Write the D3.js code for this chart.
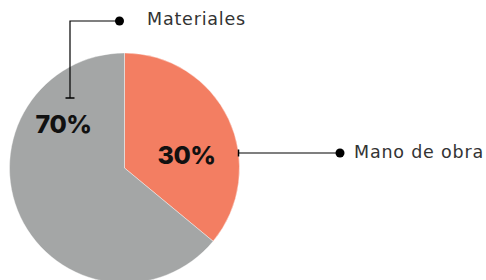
<!DOCTYPE html>
<html>
<head>
<meta charset="utf-8">
<script src="https://cdn.jsdelivr.net/npm/d3@7"></script>
<style>
  html, body { margin: 0; padding: 0; background: #fff; }
  svg { display: block; }
  text { font-family: Inter, "Open Sans", sans-serif; }
  .etiqueta { font-family: "DejaVu Sans", sans-serif; }
</style>
</head>
<body>
<div id="chart"></div>
<script>
// datos
const categorias = ["Mano de obra", "Materiales"];
const etiquetas = ["30%", "70%"];
// tamaño de las porciones tal como se ven dibujadas
const valores = [36, 64];
const colores = ["#f37e62", "#a4a6a6"];

const width = 486;
const height = 280;

const svg = d3.select("#chart").append("svg")
    .attr("width", width)
    .attr("height", height);

const cx = 124.5, cy = 168, radio = 115;

const pie = d3.pie().sort(null).value(d => d);
const arc = d3.arc().innerRadius(0).outerRadius(radio);
const arcos = pie(valores);

const g = svg.append("g").attr("transform", `translate(${cx},${cy})`);

g.selectAll("path")
    .data(arcos)
    .join("path")
    .attr("d", arc)
    .attr("fill", (d, i) => colores[i])
    .attr("stroke", "#fff")
    .attr("stroke-width", 0.4);

// porcentajes
const posPct = [[62, -13], [-61, -44]];
g.selectAll("text.pct")
    .data(arcos)
    .join("text")
    .attr("class", "pct")
    .attr("x", (d, i) => posPct[i][0])
    .attr("y", (d, i) => posPct[i][1])
    .attr("dy", "0.35em")
    .attr("text-anchor", "middle")
    .style("font-size", "25px")
    .style("font-weight", 800)
    .style("letter-spacing", "-0.5px")
    .style("fill", "#111")
    .text((d, i) => etiquetas[i]);

// línea guía: Mano de obra
const yMano = -15;
const xBorde = Math.sqrt(radio * radio - yMano * yMano);
const guia = svg.append("g").attr("transform", `translate(${cx},${cy})`);
guia.append("line")
    .attr("x1", xBorde).attr("x2", 215.5)
    .attr("y1", yMano).attr("y2", yMano)
    .attr("stroke", "#000").attr("stroke-width", 1.2);
guia.append("line")
    .attr("x1", xBorde).attr("x2", xBorde)
    .attr("y1", yMano - 3.5).attr("y2", yMano + 3.5)
    .attr("stroke", "#000").attr("stroke-width", 1.5);
guia.append("circle")
    .attr("cx", 215.5).attr("cy", yMano).attr("r", 4.5).attr("fill", "#000");
guia.append("text")
    .attr("class", "etiqueta")
    .attr("x", 229.5).attr("y", yMano - 1.5).attr("dy", "0.35em")
    .style("font-size", "17.5px").style("letter-spacing", "0.8px").style("fill", "#333")
    .text(categorias[0]);

// línea guía: Materiales
const xMat = -54.5, yTop = -147, yFin = -70;
guia.append("path")
    .attr("d", `M${xMat},${yFin}V${yTop}H${-5}`)
    .attr("fill", "none").attr("stroke", "#000").attr("stroke-width", 1.2);
guia.append("line")
    .attr("x1", xMat - 4.5).attr("x2", xMat + 4.5)
    .attr("y1", yFin).attr("y2", yFin)
    .attr("stroke", "#000").attr("stroke-width", 1.5);
guia.append("circle")
    .attr("cx", -5).attr("cy", yTop).attr("r", 4.5).attr("fill", "#000");
guia.append("text")
    .attr("class", "etiqueta")
    .attr("x", 22.5).attr("y", yTop - 2.5).attr("dy", "0.35em")
    .style("font-size", "17.5px").style("letter-spacing", "0.8px").style("fill", "#333")
    .text(categorias[1]);
</script>
</body>
</html>
